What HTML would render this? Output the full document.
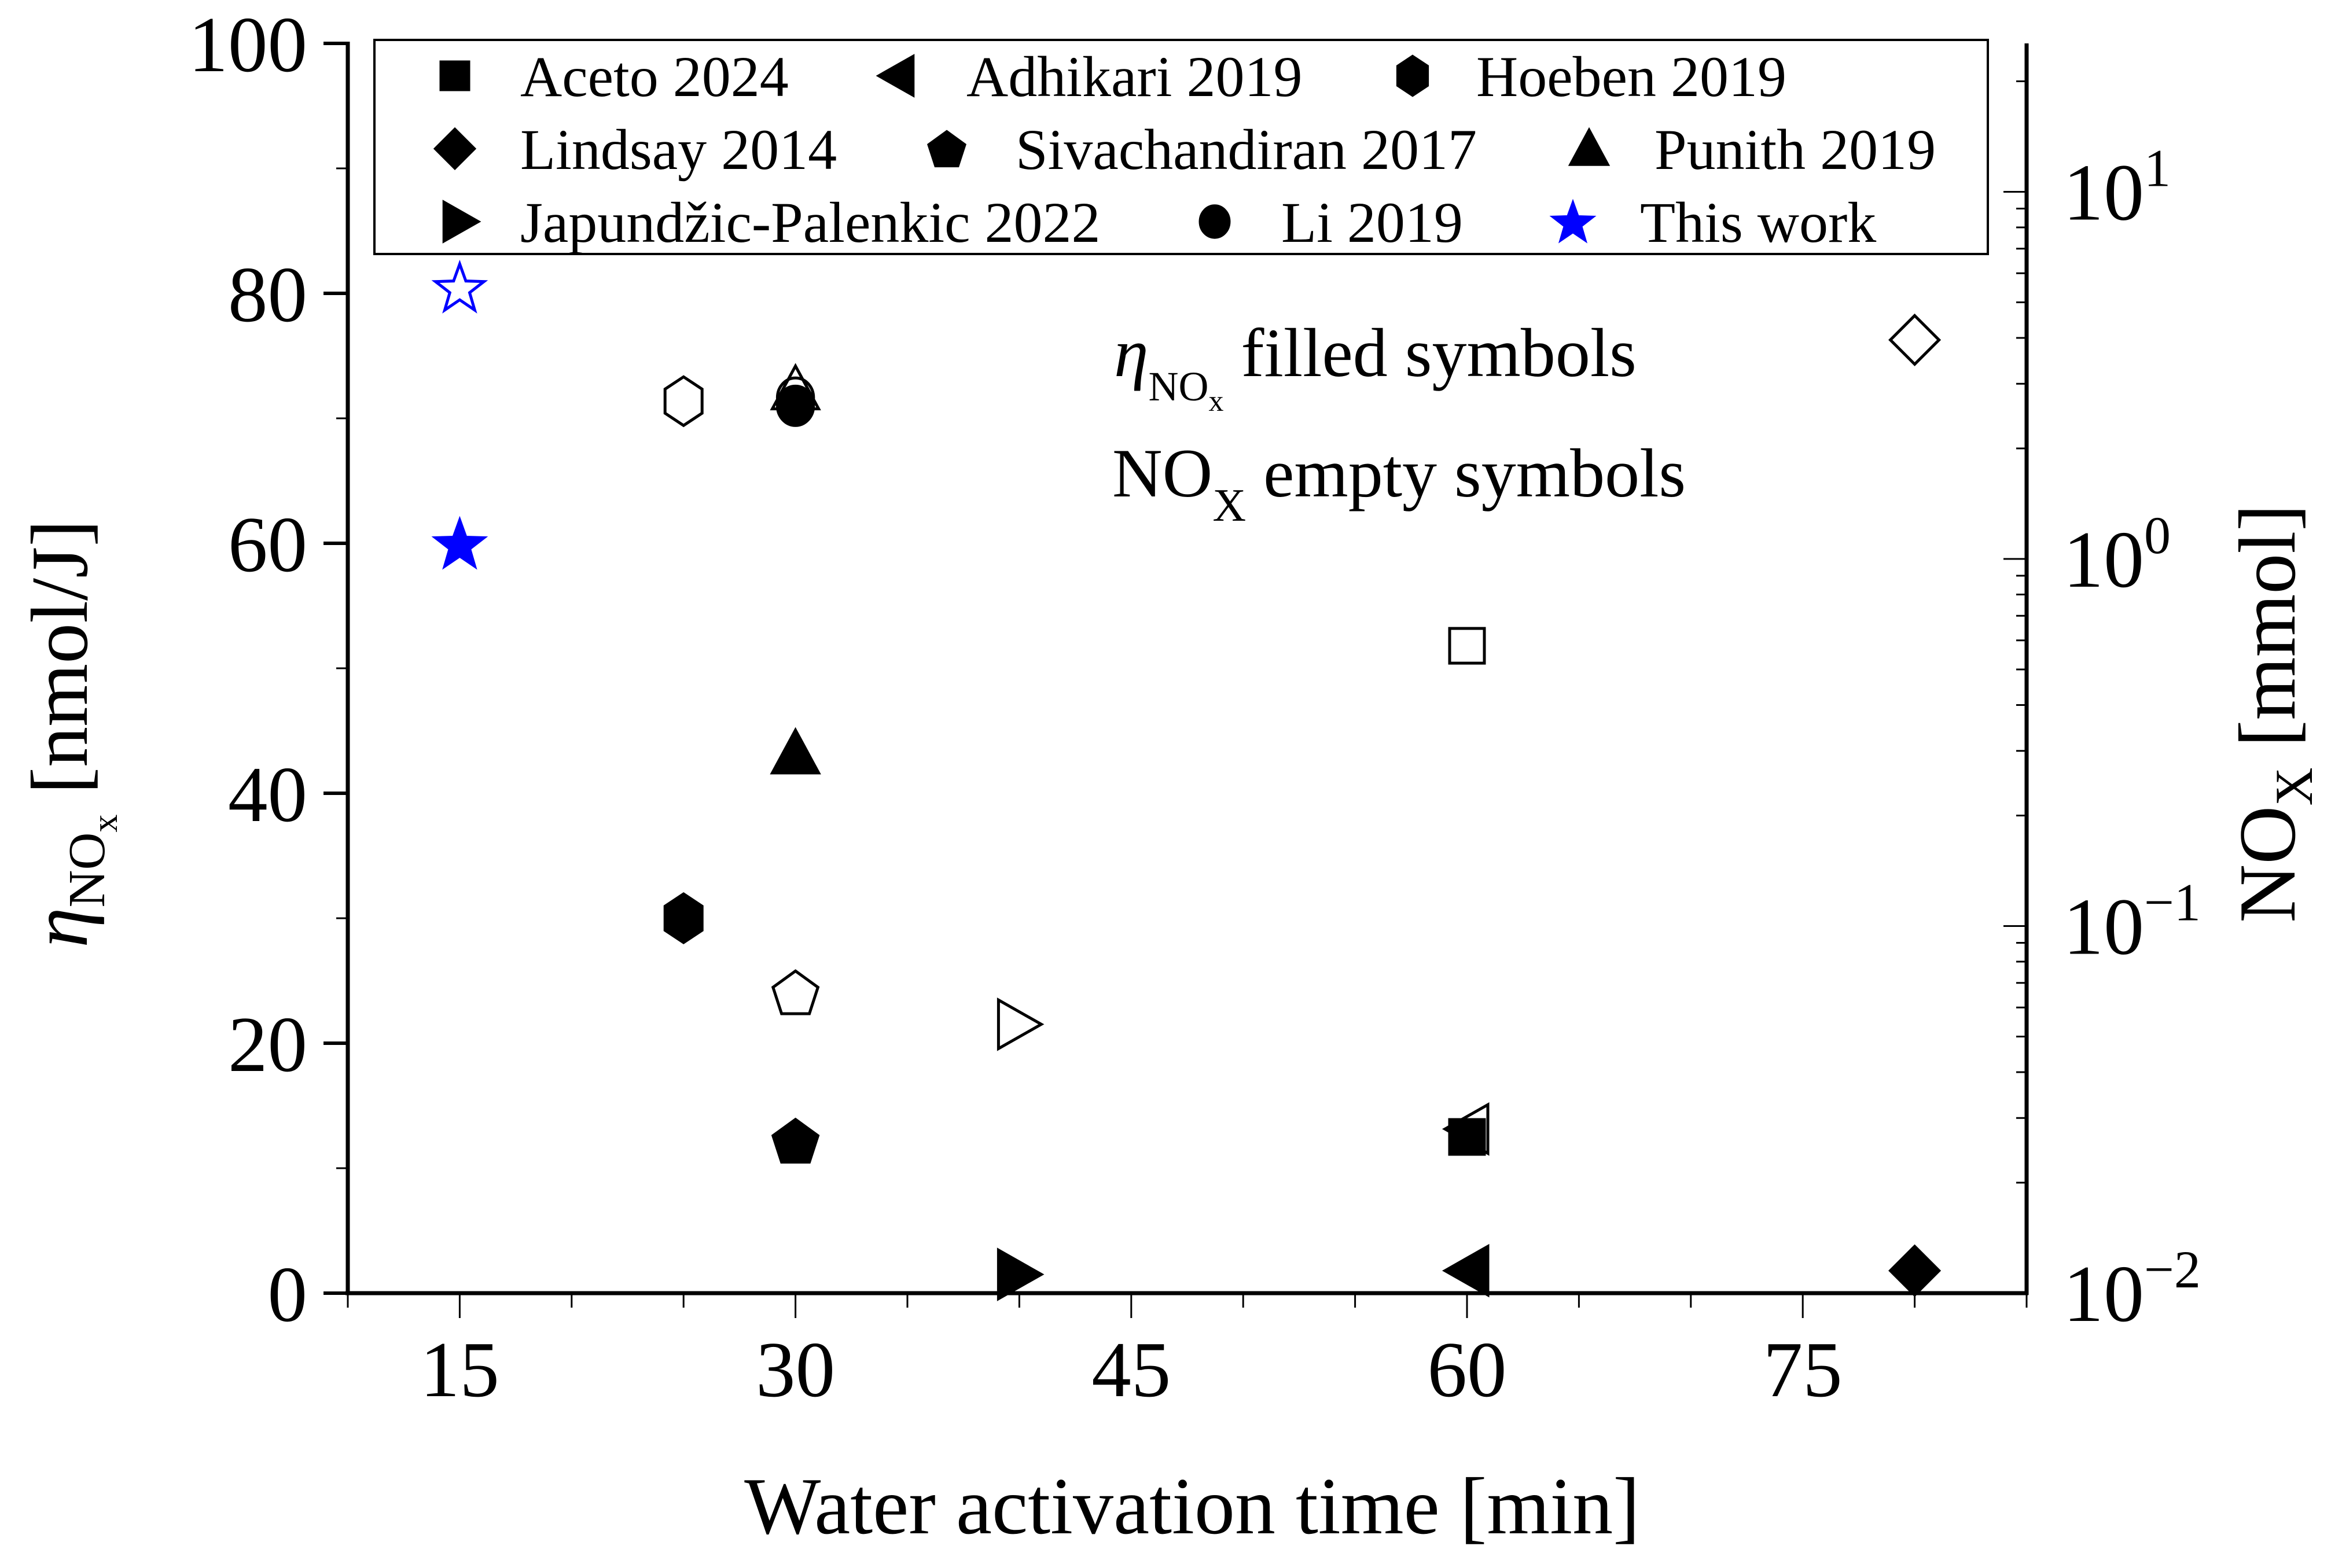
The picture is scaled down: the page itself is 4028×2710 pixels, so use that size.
<!DOCTYPE html>
<html><head><meta charset="utf-8"><style>
html,body{margin:0;padding:0;background:#fff;}
svg{display:block;font-family:"Liberation Serif","Times New Roman",serif;}
svg text{font-family:"Liberation Serif","Times New Roman",serif;}
</style></head><body>
<svg id="chart" width="4028" height="2710" viewBox="0 0 4028 2710" xmlns="http://www.w3.org/2000/svg">
<g id="axes"></g>
<g id="marks"></g>
<g id="legend"></g>
<text x="2060" y="2650" font-size="140" text-anchor="middle">Water activation time [min]</text>
<text transform="translate(150,1268) rotate(-90)" font-size="140" text-anchor="middle"><tspan font-style="italic">η</tspan><tspan font-size="90" dy="30">NO</tspan><tspan font-size="62" dy="22">x</tspan><tspan dy="-52"> [nmol/J]</tspan></text>
<text transform="translate(3965,1233) rotate(-90)" font-size="140" text-anchor="middle">NO<tspan font-size="92" dy="30">X</tspan><tspan dy="-30"> [mmol]</tspan></text>
<text x="1925" y="650" font-size="120"><tspan font-style="italic">η</tspan><tspan font-size="72" dy="42">NO</tspan><tspan font-size="52" dy="18">x</tspan><tspan dy="-60"> filled symbols</tspan></text>
<text x="1922" y="858" font-size="120">NO<tspan font-size="80" dy="42">X</tspan><tspan dy="-42"> empty symbols</tspan></text>
</svg>
<script>
const series = ["Aceto 2024","Adhikari 2019","Hoeben 2019","Lindsay 2014","Sivachandiran 2017","Punith 2019","Japundžic-Palenkic 2022","Li 2019","This work"];
const shapes = ["square","ltri","hex","diamond","pent","utri","rtri","circle","star"];
const times = [60,60,25,80,30,30,40,30,15];
const etaValues = [12.5,1.8,30,1.8,12.2,43.2,1.5,71,60];
const noxValues = [0.58,0.028,2.69,3.95,0.066,2.9,0.054,2.75,5.5];
const xTicks = [15,30,45,60,75];
const yTicks = [0,20,40,60,80,100];
const logTicks = [-2,-1,0,1];

const NS="http://www.w3.org/2000/svg";
const L=601,R=3502,T=75,B=2235;
const X=v=>L+(v-10)/75*(R-L);
const Y=v=>B-v/100*(B-T);
const DEC=634.5;
const YL=v=>B-(Math.log10(v)+2)*DEC;

function mk(tag,attrs,parent){const e=document.createElementNS(NS,tag);for(const k in attrs)e.setAttribute(k,attrs[k]);parent.appendChild(e);return e;}
const axes=document.getElementById('axes');
const marks=document.getElementById('marks');
const legend=document.getElementById('legend');

let e;
e=mk('line',{x1:L,y1:T-3,x2:L,y2:B+3,stroke:'#000','stroke-width':7},axes);


e=mk('line',{x1:R,y1:T,x2:R,y2:B+3,stroke:'#000','stroke-width':7},axes);


e=mk('line',{x1:L-4,y1:B,x2:R+3,y2:B,stroke:'#000','stroke-width':7},axes);



for(let v=10;v<=85;v+=5){
  const maj=xTicks.includes(v);
  e=mk('line',{x1:X(v),y1:B,x2:X(v),y2:B+(maj?43:25),stroke:'#000','stroke-width':3},axes);
  
  
}
xTicks.forEach(v=>{
  e=mk('text',{x:X(v),y:B+178,'font-size':137,'text-anchor':'middle'},axes);
  e.textContent=v;
  
  
});
for(let v=0;v<=100;v+=10){
  const maj=yTicks.includes(v);
  e=mk('line',{x1:L,y1:Y(v),x2:L-(maj?42:20),y2:Y(v),stroke:'#000','stroke-width':maj?6:3},axes);
  
  
}
yTicks.forEach(v=>{
  e=mk('text',{x:L-70,y:Y(v)+48,'font-size':137,'text-anchor':'end'},axes);
  e.textContent=v;
  
  
});
for(let d=-2;d<=1;d++){
  for(let m=1;m<=9;m++){
    const val=m*Math.pow(10,d);const y=YL(val);
    if(y<T)continue;
    e=mk('line',{x1:R,y1:y,x2:R-(m===1?40:18),y2:y,stroke:'#000','stroke-width':3},axes);
    
    
  }
}
logTicks.forEach(p=>{
  e=mk('text',{x:3565,y:YL(Math.pow(10,p))+48,'font-size':140},axes);
  
  
  e.innerHTML='10<tspan font-size="92" dy="-58">'+(p<0?'−'+(-p):p)+'</tspan>';
});

function shape(kind,cx,cy,s,fill,stroke,parent){
  let el;const sw=5;
  const col=stroke;
  const poly=pts=>mk('polygon',{points:pts.map(p=>(cx+p[0]*s)+','+(cy+p[1]*s)).join(' '),fill:fill?col:'#fff',stroke:col,'stroke-width':sw},parent);
  switch(kind){
    case 'square': el=poly([[-0.75,-0.75],[0.75,-0.75],[0.75,0.75],[-0.75,0.75]]);break;
    case 'diamond': el=poly([[0,-1.05],[1.05,0],[0,1.05],[-1.05,0]]);break;
    case 'utri': el=poly([[0,-1],[1,0.85],[-1,0.85]]);break;
    case 'ltri': el=poly([[-0.95,0],[0.9,-1.05],[0.9,1.05]]);break;
    case 'rtri': el=poly([[0.95,0],[-0.9,-1.05],[-0.9,1.05]]);break;
    case 'hex': el=poly([[0,-1.05],[0.8,-0.52],[0.8,0.52],[0,1.05],[-0.8,0.52],[-0.8,-0.52]]);break;
    case 'pent': {const pts=[];for(let i=0;i<5;i++){const a=-Math.PI/2+i*2*Math.PI/5;pts.push([Math.cos(a)*1.02,Math.sin(a)*1.02+0.1]);}el=poly(pts);break;}
    case 'circle': el=mk('ellipse',{cx:cx,cy:cy,rx:0.78*s,ry:0.85*s,fill:fill?col:'#fff',stroke:col,'stroke-width':sw},parent);break;
    case 'star': {const pts=[];for(let i=0;i<10;i++){const a=-Math.PI/2+i*Math.PI/5;const r=i%2?0.45:1.1;pts.push([Math.cos(a)*r,Math.sin(a)*r+0.1]);}el=poly(pts);break;}
  }
  return el;
}
const S=40;
series.forEach((name,i)=>{
  const col=shapes[i]==='star'?'#0000ff':'#000';
  const f=shape(shapes[i],X(times[i]),Y(etaValues[i]),S,true,col,marks);
  
  
});
series.forEach((name,i)=>{
  const col=shapes[i]==='star'?'#0000ff':'#000';
  const o=shape(shapes[i],X(times[i]),YL(noxValues[i]),S,false,col,marks);
  
  
  o.setAttribute('fill','none');
});

e=mk('rect',{x:647,y:69,width:2788,height:370,fill:'#fff',stroke:'#000','stroke-width':4},legend);


const legMarkX=[786,1549,2441,786,1636,2746,796,2099,2718];
const legTextX=[899,1670,2551,899,1755,2859,899,2214,2834];
const legRowY=[131,257,383];
series.forEach((name,i)=>{
  const r=Math.floor(i/3);const col=shapes[i]==='star'?'#0000ff':'#000';
  const m=shape(shapes[i],legMarkX[i],legRowY[r],32,true,col,legend);
  
  
  const t=mk('text',{x:legTextX[i],y:legRowY[r]+35,'font-size':100},legend);
  t.textContent=name;
  
  
});
</script>
</body></html>
